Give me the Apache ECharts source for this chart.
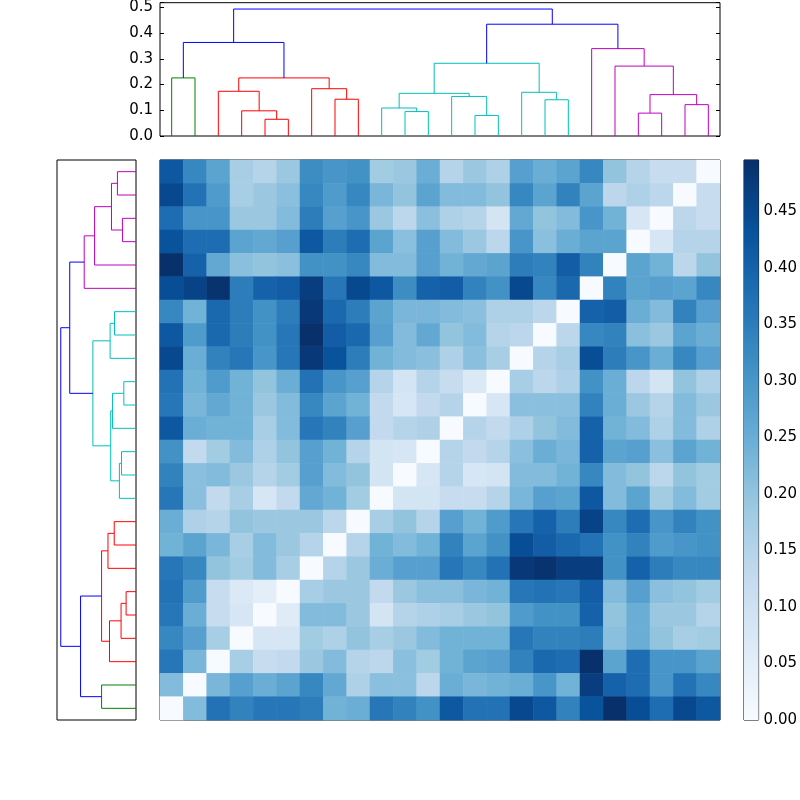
<!DOCTYPE html>
<html>
<head>
<meta charset="utf-8">
<script src="https://cdn.jsdelivr.net/npm/echarts@6/dist/echarts.min.js"></script>
<style>
  body { margin: 0; background: #fff; }
  #main { width: 800px; height: 800px; }
</style>
</head>
<body>
<div id="main"></div>
<script>
// dendrogram linkage, leaves numbered in plotted order (0 = left / bottom)
// new clusters get ids 24, 25, ... in merge order, like scipy
const mergeLeft   = [4, 3, 2, 7, 6, 26, 0, 30, 10, 9, 13, 12, 33, 16, 15, 36, 20, 22, 40, 19, 18, 39, 31];
const mergeRight  = [5, 24, 25, 8, 27, 28, 1, 29, 11, 32, 14, 34, 35, 17, 37, 38, 21, 23, 41, 42, 43, 44, 45];
const mergeHeight = [0.065, 0.098, 0.174, 0.143, 0.184, 0.226, 0.226, 0.364, 0.095, 0.109, 0.080, 0.154,
                     0.166, 0.141, 0.170, 0.283, 0.089, 0.122, 0.161, 0.272, 0.340, 0.435, 0.494];
const mergeColor  = ['r', 'r', 'r', 'r', 'r', 'r', 'g', 'b', 'c', 'c', 'c', 'c',
                     'c', 'c', 'c', 'c', 'm', 'm', 'm', 'm', 'm', 'b', 'b'];

const dendroTicks = [0, 0.1, 0.2, 0.3, 0.4, 0.5];
const colorbarTicks = [0, 0.05, 0.1, 0.15, 0.2, 0.25, 0.3, 0.35, 0.4, 0.45];
const vmax = 0.4956;

// distance matrix, rows as shown from top to bottom, columns left to right
const heatRows = [
  [0.42,0.33,0.27,0.17,0.15,0.19,0.32,0.30,0.31,0.18,0.19,0.25,0.15,0.19,0.16,0.28,0.25,0.27,0.33,0.20,0.15,0.12,0.12,0],
  [0.45,0.37,0.29,0.17,0.19,0.21,0.33,0.29,0.33,0.23,0.20,0.27,0.22,0.22,0.20,0.33,0.27,0.34,0.27,0.14,0.16,0.14,0,0.12],
  [0.38,0.30,0.30,0.19,0.19,0.22,0.35,0.28,0.30,0.19,0.14,0.21,0.16,0.15,0.09,0.26,0.20,0.22,0.30,0.24,0.08,0,0.14,0.12],
  [0.43,0.38,0.38,0.27,0.26,0.28,0.42,0.35,0.38,0.27,0.21,0.28,0.22,0.19,0.14,0.30,0.21,0.25,0.27,0.27,0,0.08,0.15,0.15],
  [0.4956,0.40,0.26,0.21,0.20,0.21,0.31,0.31,0.33,0.22,0.22,0.28,0.24,0.26,0.27,0.35,0.34,0.41,0.34,0,0.27,0.24,0.14,0.20],
  [0.44,0.46,0.49,0.35,0.40,0.41,0.47,0.36,0.45,0.42,0.32,0.40,0.41,0.34,0.31,0.45,0.33,0.39,0,0.34,0.27,0.28,0.27,0.33],
  [0.33,0.24,0.39,0.35,0.31,0.35,0.48,0.39,0.35,0.27,0.23,0.23,0.22,0.21,0.16,0.16,0.14,0,0.40,0.41,0.25,0.22,0.34,0.28],
  [0.42,0.29,0.39,0.35,0.31,0.36,0.495,0.41,0.39,0.28,0.22,0.26,0.20,0.22,0.15,0.14,0,0.14,0.33,0.34,0.21,0.19,0.27,0.25],
  [0.45,0.25,0.34,0.36,0.30,0.36,0.48,0.43,0.35,0.24,0.22,0.21,0.16,0.21,0.17,0,0.15,0.17,0.44,0.35,0.30,0.25,0.33,0.28],
  [0.37,0.24,0.29,0.24,0.20,0.25,0.37,0.30,0.28,0.15,0.09,0.15,0.12,0.07,0,0.17,0.14,0.16,0.31,0.25,0.14,0.09,0.20,0.16],
  [0.36,0.23,0.26,0.24,0.19,0.22,0.33,0.27,0.24,0.13,0.08,0.13,0.15,0,0.08,0.21,0.21,0.21,0.34,0.25,0.19,0.15,0.22,0.19],
  [0.42,0.25,0.24,0.24,0.17,0.22,0.36,0.34,0.28,0.13,0.15,0.16,0,0.15,0.13,0.16,0.20,0.22,0.40,0.24,0.22,0.16,0.22,0.16],
  [0.31,0.13,0.18,0.22,0.16,0.20,0.28,0.24,0.15,0.09,0.08,0,0.15,0.13,0.15,0.21,0.25,0.23,0.40,0.27,0.28,0.21,0.27,0.24],
  [0.34,0.21,0.22,0.19,0.15,0.18,0.28,0.22,0.20,0.09,0,0.08,0.15,0.08,0.09,0.22,0.22,0.24,0.33,0.22,0.20,0.14,0.20,0.18],
  [0.36,0.21,0.13,0.17,0.08,0.13,0.26,0.24,0.18,0,0.09,0.09,0.12,0.12,0.15,0.23,0.28,0.27,0.42,0.22,0.27,0.18,0.22,0.18],
  [0.25,0.16,0.15,0.20,0.19,0.19,0.19,0.14,0,0.17,0.20,0.15,0.28,0.24,0.29,0.36,0.40,0.35,0.46,0.33,0.38,0.30,0.34,0.31],
  [0.24,0.27,0.23,0.17,0.22,0.19,0.15,0,0.15,0.24,0.22,0.24,0.34,0.27,0.31,0.44,0.41,0.39,0.37,0.31,0.34,0.29,0.30,0.31],
  [0.36,0.33,0.20,0.18,0.22,0.17,0,0.15,0.19,0.25,0.28,0.28,0.36,0.33,0.37,0.48,0.49,0.47,0.47,0.31,0.40,0.35,0.33,0.33],
  [0.37,0.29,0.12,0.07,0.05,0,0.17,0.19,0.19,0.13,0.19,0.21,0.21,0.23,0.24,0.36,0.37,0.36,0.41,0.22,0.28,0.21,0.20,0.18],
  [0.36,0.25,0.12,0.08,0,0.06,0.22,0.22,0.19,0.09,0.15,0.16,0.17,0.19,0.20,0.29,0.31,0.31,0.40,0.20,0.25,0.19,0.19,0.15],
  [0.33,0.28,0.17,0,0.08,0.08,0.18,0.16,0.20,0.17,0.19,0.22,0.24,0.24,0.24,0.36,0.34,0.34,0.35,0.21,0.25,0.20,0.17,0.18],
  [0.36,0.23,0,0.17,0.12,0.13,0.19,0.22,0.15,0.14,0.21,0.18,0.24,0.27,0.28,0.34,0.39,0.38,0.495,0.27,0.38,0.30,0.30,0.27],
  [0.22,0,0.23,0.28,0.25,0.27,0.33,0.26,0.16,0.21,0.21,0.14,0.25,0.23,0.24,0.25,0.30,0.24,0.47,0.40,0.38,0.30,0.37,0.33],
  [0,0.22,0.37,0.34,0.36,0.36,0.35,0.24,0.25,0.36,0.34,0.31,0.42,0.37,0.37,0.45,0.42,0.34,0.43,0.4956,0.44,0.38,0.45,0.42]
];

const BLUES = ['#f7fbff', '#deebf7', '#c6dbef', '#9ecae1', '#6baed6', '#4292c6', '#2171b5', '#08519c', '#08306b'];
const LINK_COLORS = { b: '#0000ff', g: '#008000', r: '#ff0000', c: '#00bfbf', m: '#bf00bf' };
const FONT = 'DejaVu Sans';

// dendrogram links: leaf i sits at 5 + 10 i, like scipy
const nLeaves = heatRows.length;
const pos = [], hgt = [];
for (let i = 0; i < nLeaves; i++) { pos.push(5 + 10 * i); hgt.push(0); }
const links = [];
mergeLeft.forEach((a, k) => {
  const b = mergeRight[k], h = mergeHeight[k];
  links.push({
    color: LINK_COLORS[mergeColor[k]],
    pts: [[pos[a], hgt[a]], [pos[a], h], [pos[b], h], [pos[b], hgt[b]]]
  });
  pos.push((pos[a] + pos[b]) / 2);
  hgt.push(h);
});
const dendroMax = Math.max(...mergeHeight) * 1.05;

const heatData = [];
heatRows.forEach((row, r) => row.forEach((v, c) => heatData.push([c, r, v])));
const idx = heatRows.map((_, i) => i);

const onTick = (v, ticks) => ticks.some(t => Math.abs(t - v) < 1e-9);
const hidden = { axisLabel: { show: false }, axisTick: { show: false }, axisLine: { show: false }, splitLine: { show: false } };
const frame = { show: true, borderColor: '#000', borderWidth: 1, backgroundColor: 'transparent', containLabel: false };

const series = [
  {
    type: 'heatmap', xAxisIndex: 2, yAxisIndex: 3, data: heatData,
    itemStyle: { borderWidth: 0 }, emphasis: { disabled: true }
  },
  {
    type: 'bar', xAxisIndex: 3, yAxisIndex: 4, data: [vmax], barWidth: '100%',
    itemStyle: {
      color: {
        type: 'linear', x: 0, y: 1, x2: 0, y2: 0,
        colorStops: BLUES.map((c, i) => ({ offset: i / (BLUES.length - 1), color: c }))
      }
    }
  }
];
links.forEach(l => {
  const line = { type: 'line', symbol: 'none', lineStyle: { color: l.color, width: 1 }, silent: true };
  series.push(Object.assign({}, line, { xAxisIndex: 0, yAxisIndex: 0, data: l.pts }));
  series.push(Object.assign({}, line, { xAxisIndex: 1, yAxisIndex: 2, data: l.pts.map(p => [p[1], p[0]]) }));
});

const chart = echarts.init(document.getElementById('main'));
chart.setOption({
  animation: false,
  backgroundColor: '#fff',
  textStyle: { fontFamily: FONT },
  grid: [
    Object.assign({ left: 160, top: 0, width: 560, height: 136 }, frame),
    Object.assign({ left: 57, top: 160, width: 79, height: 560 }, frame),
    Object.assign({ left: 160, top: 160, width: 560, height: 560 }, frame),
    Object.assign({ left: 744, top: 160, width: 16, height: 560 }, frame)
  ],
  xAxis: [
    Object.assign({ type: 'value', gridIndex: 0, min: 0, max: nLeaves * 10 }, hidden),
    Object.assign({ type: 'value', gridIndex: 1, min: 0, max: dendroMax, inverse: true }, hidden),
    Object.assign({ type: 'category', gridIndex: 2, data: idx, boundaryGap: true }, hidden),
    Object.assign({ type: 'category', gridIndex: 3, data: [''], boundaryGap: true }, hidden)
  ],
  yAxis: [
    {
      type: 'value', gridIndex: 0, min: 0, max: dendroMax, interval: 0.1, position: 'left',
      axisLine: { show: false }, splitLine: { show: false },
      axisTick: { inside: true, length: 4, lineStyle: { color: '#000' } },
      axisLabel: {
        color: '#000', fontSize: 15, fontFamily: FONT, margin: 7,
        formatter: v => onTick(v, dendroTicks) ? v.toFixed(1) : ''
      }
    },
    {
      type: 'value', gridIndex: 0, min: 0, max: dendroMax, interval: 0.1, position: 'right',
      axisLine: { show: false }, splitLine: { show: false }, axisLabel: { show: false },
      axisTick: { inside: true, length: 4, lineStyle: { color: '#000' } }
    },
    Object.assign({ type: 'value', gridIndex: 1, min: 0, max: nLeaves * 10 }, hidden),
    Object.assign({ type: 'category', gridIndex: 2, data: idx, inverse: true, boundaryGap: true }, hidden),
    {
      type: 'value', gridIndex: 3, min: 0, max: vmax, interval: 0.05, position: 'right',
      axisLine: { show: false }, splitLine: { show: false },
      axisTick: { inside: true, length: 5, lineStyle: { color: '#000' } },
      axisLabel: {
        color: '#000', fontSize: 15, fontFamily: FONT, margin: 5,
        formatter: v => onTick(v, colorbarTicks) ? v.toFixed(2) : ''
      }
    }
  ],
  visualMap: {
    type: 'continuous', show: false, seriesIndex: 0, dimension: 2,
    min: 0, max: vmax, inRange: { color: BLUES }
  },
  series: series
});
</script>
</body>
</html>
